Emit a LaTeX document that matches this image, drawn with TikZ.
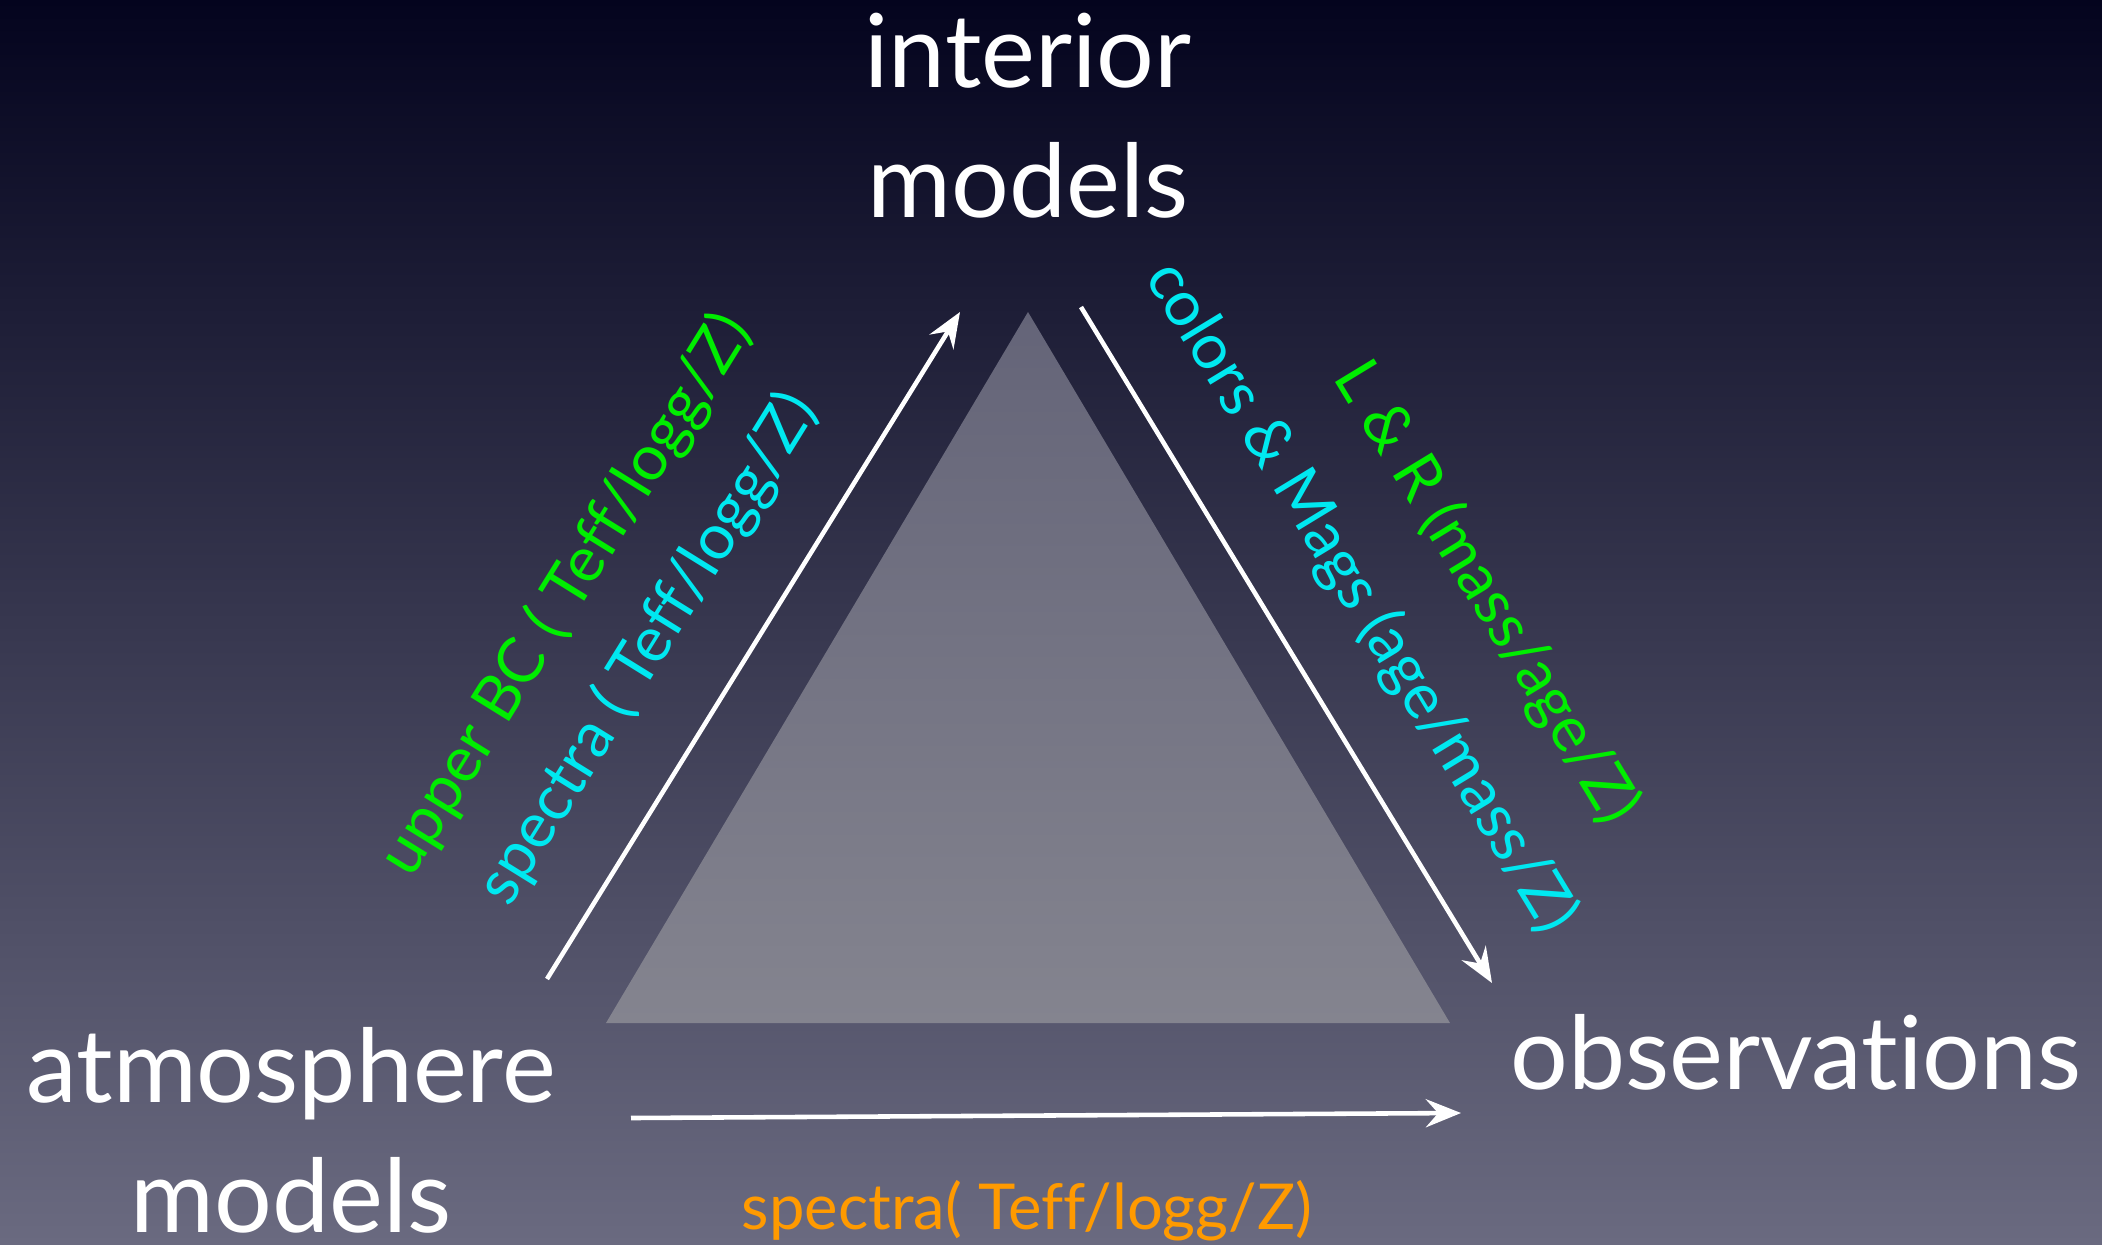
\documentclass[tikz,border=0pt]{standalone}
\usepackage{fontspec}
\setmainfont[Ligatures=NoCommon,Contextuals=NoAlternate]{Lato}
\usetikzlibrary{arrows.meta}

\definecolor{bgtop}{HTML}{04041E}
\definecolor{bgmid}{HTML}{2E2E4C}
\definecolor{bgbot}{HTML}{6A6A80}
\definecolor{tritop}{HTML}{646478}
\definecolor{tribot}{HTML}{84848F}
\definecolor{lblgreen}{HTML}{00EE00}
\definecolor{lblcyan}{HTML}{00E8F0}
\definecolor{lblorange}{HTML}{FF9A00}

\begin{document}
\begin{tikzpicture}[x=0.01cm,y=0.01cm,
  title/.style={text=white,font=\fontsize{29}{37}\selectfont,align=center,inner sep=0pt},
  lbl/.style={font=\fontsize{18}{22}\selectfont,inner sep=0pt},
  flow/.style={draw=white,line width=1.3pt,-{Stealth[length=10pt,width=8pt,inset=3.5pt]}}]

% backdrop
\shade[top color=bgtop,middle color=bgmid,bottom color=bgbot] (0,0) rectangle (2102,-1244);
\useasboundingbox (0,0) rectangle (2102,-1244);

% central triangle
\shade[top color=tritop,bottom color=tribot] (1028,-312) -- (1450,-1023) -- (606,-1023) -- cycle;

% the three corners
\node[title] (int) at (1028,-116) {interior\\models};
\node[title] (atm) at (291,-1130) {atmosphere\\models};
\node[title,anchor=base] (obs) at (1796,-1089) {observations};

% arrow ends
\coordinate (atmUp) at (547,-979);
\coordinate (intIn) at (960,-312);
\coordinate (intOut) at (1081,-307);
\coordinate (obsIn) at (1492,-983);
\coordinate (atmOut) at (631,-1118);
\coordinate (obsLeft) at (1461,-1113);

\draw[flow] (atmUp) -- (intIn);
\draw[flow] (intOut) -- (obsIn);
\draw[flow] (atmOut) -- (obsLeft);

% edge labels
\node[lbl,text=lblgreen,rotate=58.2] (ubc) at (566,-595) {upper BC ( Teff/logg/Z)};
\node[lbl,text=lblcyan,rotate=58.2] (spl) at (648,-649) {spectra ( Teff/logg/Z)};
\node[lbl,text=lblcyan,rotate=-58.7] (cmg) at (1361,-597) {colors \& Mags (age/mass/Z)};
\node[lbl,text=lblgreen,rotate=-58.7] (lr) at (1486,-593) {L \& R (mass/age/Z)};
\node[lbl,text=lblorange,anchor=base] (spb) at (1027,-1229) {spectra( Teff/logg/Z)};
\end{tikzpicture}
\end{document}
